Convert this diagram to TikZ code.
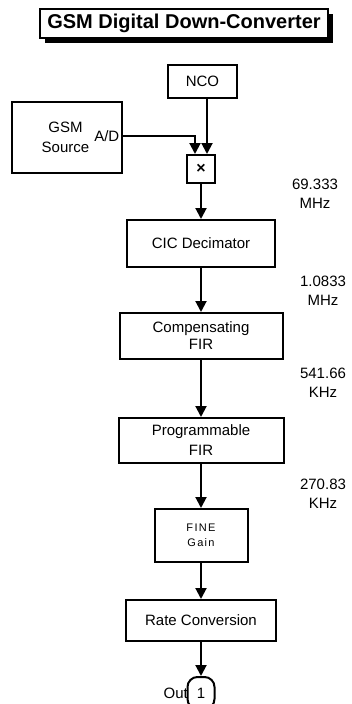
\documentclass[tikz,border=0pt]{standalone}
\usepackage{fontspec}
\setmainfont{Liberation Sans}
\usetikzlibrary{arrows.meta}
\begin{document}
\begin{tikzpicture}[x=1pt,y=-1pt,
  box/.style={draw, line width=2pt, fill=white, inner sep=0pt, align=center,
    font=\fontsize{15}{17}\selectfont},
  arr/.style={line width=2pt, -{Triangle[width=11pt,length=11pt]}},
  lbl/.style={inner sep=0pt, align=center, font=\fontsize{15}{19}\selectfont}]
\useasboundingbox (0,0) rectangle (351,704);
% title
\fill[black] (45,14) rectangle (333,43);
\node[draw, line width=1.8pt, fill=white, minimum width=288pt, minimum height=29pt, inner sep=0pt,
  font=\fontsize{20}{22}\bfseries] (title) at (184,23.5) {GSM Digital Down-Converter};
% blocks
\node[box, minimum width=69pt, minimum height=33pt] (nco) at (202.5,81.5) {NCO};
\node[box, minimum width=110pt, minimum height=71pt] (gsm) at (67,137.5) {};
\node[lbl, font=\fontsize{15}{20}\selectfont] (gsmtxt) at (65.5,137) {GSM\\Source};
\node[lbl, anchor=east] (ad) at (119.5,136) {A/D};
\node[box, minimum width=28pt, minimum height=28pt, font=\fontsize{16}{16}\bfseries] (mult) at (201,169) {×};
\node[box, minimum width=148pt, minimum height=47pt] (cic) at (201,243.5) {CIC Decimator};
\node[box, minimum width=163pt, minimum height=46pt, font=\fontsize{15}{17}\selectfont] (comp) at (201,336) {Compensating\\FIR};
\node[box, minimum width=165pt, minimum height=45pt, font=\fontsize{15}{20}\selectfont] (prog) at (201,440.5) {Programmable\\FIR};
\node[box, minimum width=93pt, minimum height=53pt, font=\fontsize{11}{15}\selectfont\addfontfeature{LetterSpace=12}] (fine) at (201,535.5) {FINE\\Gain};
\node[box, minimum width=150pt, minimum height=41pt] (rate) at (201,620.5) {Rate Conversion};
\node[box, rounded corners=10pt, minimum width=27pt, minimum height=32pt] (out) at (201,693) {1};
\node[lbl, anchor=east] (outlbl) at (188,693) {Out};
% rate labels
\node[lbl] (f1) at (315,193.5) {69.333\\MHz};
\node[lbl] (f2) at (323,291) {1.0833\\MHz};
\node[lbl] (f3) at (323,382.5) {541.66\\KHz};
\node[lbl] (f4) at (323,493.5) {270.83\\KHz};
% connectors
\draw[arr] ([yshift=1.5pt]gsm.east) -| ([xshift=-6pt]mult.north);
\draw[arr] ([xshift=4.5pt]nco.south) -- ([xshift=6pt]mult.north);
\draw[arr] (mult.south) -- (cic.north);
\draw[arr] (cic.south) -- (comp.north);
\draw[arr] (comp.south) -- (prog.north);
\draw[arr] (prog.south) -- (fine.north);
\draw[arr] (fine.south) -- (rate.north);
\draw[arr] (rate.south) -- (out.north);
\end{tikzpicture}
\end{document}
